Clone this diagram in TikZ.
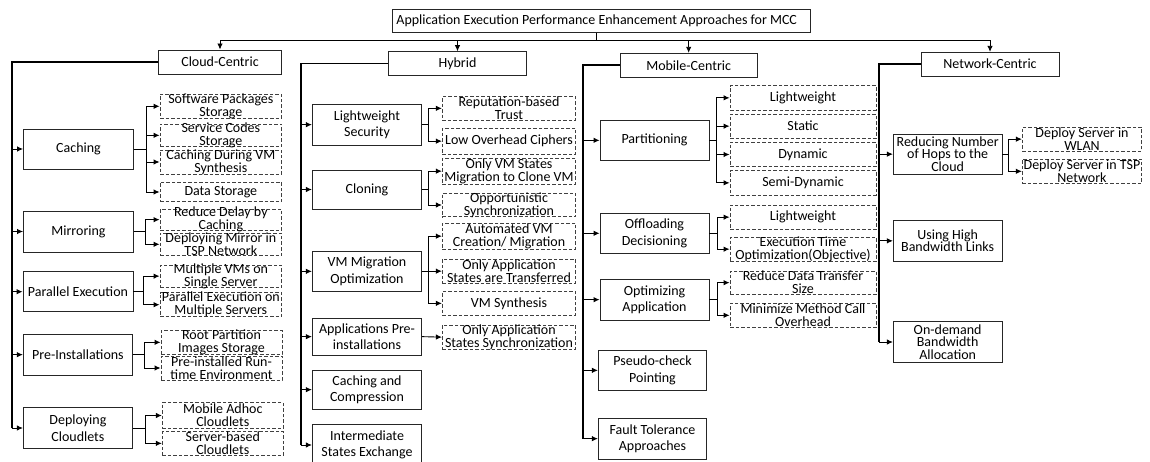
\documentclass[tikz,border=0pt]{standalone}
\usepackage{fontspec}
\setmainfont{Carlito}
\usetikzlibrary{arrows.meta}
\newcommand\fsS{\fontsize{14}{16.5}\selectfont}
\newcommand\fsD{\fontsize{14}{13}\selectfont}
\newcommand\fsN{\fontsize{14}{12.5}\selectfont}
\tikzset{
  sbox/.style={draw=black!85, line width=0.9pt, inner sep=0pt, align=center, font=\fsS},
  dbox/.style={draw=black!75, line width=0.9pt, dash pattern=on 3.5pt off 2pt, inner sep=0pt},
  dtxt/.style={inner sep=0pt, align=center, font=\fsD},
  arr/.style={line width=0.9pt, -{Latex[length=6pt,width=5.5pt]}},
  plain/.style={line width=0.9pt},
  trunk/.style={line width=1.6pt},
}
\newcommand\SB[7][]{\node[sbox,#1,minimum width={#5pt-#3pt},minimum height={#6pt-#4pt}] (#2) at ({(#3+#5)/2},{(#4+#6)/2}) {#7};}
\newcommand\DB[6]{\node[dbox,minimum width={#4pt-#2pt},minimum height={#5pt-#3pt}] (#1) at ({(#2+#4)/2},{(#3+#5)/2}) {};
  \node[dtxt] (#1-t) at (#1.center) {#6};}
\newcommand\br[3]{\foreach \g in {#3} {\draw[arr] (#1.east) -- ++(#2,0) |- (\g.west);}}
\begin{document}
\begin{tikzpicture}[x=1pt,y=-1pt]
\useasboundingbox (0,0) rectangle (1150,462);
% title and categories
\SB{title}{392.7}{9}{810}{32.3}{}
\node[inner sep=0pt, font=\fsS] (title-t) at (596.7,20.7) {Application Execution Performance Enhancement Approaches for MCC};
\SB{cc}{158.3}{50}{281.7}{74}{Cloud-Centric}
\SB{hy}{388.3}{51.7}{526.7}{75.7}{Hybrid}
\SB{mc}{620}{53.3}{757.3}{77.3}{Mobile-Centric}
\SB{nc}{921}{52.3}{1059}{76}{Network-Centric}
% cloud
\SB{c1}{23.5}{129}{133.5}{169}{Caching}
\SB{c2}{23.5}{211}{133.5}{252}{Mirroring}
\SB{c3}{23}{271.7}{133}{311.7}{Parallel Execution}
\SB{c4}{23.3}{334.3}{132.5}{375}{Pre-Installations}
\SB{c5}{23.3}{407.7}{132.5}{448.3}{Deploying\\Cloudlets}
\DB{c1a}{160}{94.3}{281.7}{118.3}{Software Packages\\Storage}
\DB{c1b}{160}{124}{281.7}{146.7}{Service Codes\\Storage}
\DB{c1c}{160}{150}{281.7}{174}{Caching During VM\\Synthesis}
\DB{c1d}{160}{182.3}{281.7}{201.7}{Data Storage}
\DB{c2a}{160}{209.3}{281.7}{230}{Reduce Delay by\\Caching}
\DB{c2b}{160}{233.3}{281.7}{255.3}{Deploying Mirror in\\TSP Network}
\DB{c3a}{160}{265}{281.7}{287.3}{Multiple VMs on\\Single Server}
\DB{c3b}{160}{292.7}{281.7}{316.7}{Parallel Execution on\\Multiple Servers}
\DB{c4a}{161}{330.7}{282}{354}{Root Partition\\Images Storage}
\DB{c4b}{161}{356}{282}{380}{Pre-installed Run-\\time Environment}
\DB{c5a}{162.3}{402.7}{283.3}{428.3}{Mobile Adhoc\\Cloudlets}
\DB{c5b}{162.3}{431.7}{283.3}{455}{Server-based\\Cloudlets}
% hybrid
\SB{h1}{312.3}{104.3}{421.7}{145}{Lightweight\\Security}
\SB{h2}{312.3}{170}{421.7}{209}{Cloning}
\SB{h3}{312.3}{251}{421.7}{291.7}{VM Migration\\Optimization}
\SB{h4}{312.3}{318.3}{421.7}{355}{Applications Pre-\\installations}
\SB{h5}{312.3}{370}{421.7}{409.3}{Caching and\\Compression}
\SB{h6}{312.3}{424}{421.7}{466}{Intermediate\\States Exchange}
\DB{h1a}{442.3}{96.7}{575.7}{120}{Reputation-based\\Trust}
\DB{h1b}{442.3}{128.3}{575.7}{154}{Low Overhead Ciphers}
\DB{h2a}{442.3}{158.3}{575.7}{184}{Only VM States\\Migration to Clone VM}
\DB{h2b}{442.3}{193.3}{575.7}{216.7}{Opportunistic\\Synchronization}
\DB{h3a}{442.3}{223.3}{575.7}{249}{Automated VM\\Creation/ Migration}
\DB{h3b}{442.3}{259}{575.7}{283.3}{Only Application\\States are Transferred}
\DB{h3c}{442.3}{291.7}{575.7}{315}{VM Synthesis}
\DB{h4a}{442.3}{325}{575.7}{349.3}{Only Application\\States Synchronization}
% mobile
\SB{m1}{600}{120}{709}{160.7}{Partitioning}
\SB{m2}{600}{213.3}{709}{253.3}{Offloading\\Decisioning}
\SB{m3}{600}{279.3}{709}{320}{Optimizing\\Application}
\SB{m4}{598.3}{350}{706.7}{390.7}{Pseudo-check\\Pointing}
\SB{m5}{598.3}{418.3}{706.7}{459}{Fault Tolerance\\Approaches}
\DB{m1a}{730}{85.7}{876}{110}{Lightweight}
\DB{m1b}{730}{114}{876}{138.3}{Static}
\DB{m1c}{730}{142.3}{876}{166.7}{Dynamic}
\DB{m1d}{730}{170.7}{876}{195}{Semi-Dynamic}
\DB{m2a}{730}{205}{876}{229.3}{Lightweight}
\DB{m2b}{730}{237.3}{876}{261}{Execution Time\\Optimization(Objective)}
\DB{m3a}{730}{271}{876}{294.3}{Reduce Data Transfer\\Size}
\DB{m3b}{730}{303.3}{876}{327.3}{Minimize Method Call\\Overhead}
% network
\SB[font=\fsN]{n1}{893.3}{134}{1002}{174.3}{Reducing Number\\of Hops to the\\Cloud}
\SB[font=\fsN]{n2}{893.3}{220.7}{1002}{261}{Using High\\Bandwidth Links}
\SB[font=\fsN]{n3}{893.3}{321.7}{1002}{362.3}{On-demand\\Bandwidth\\Allocation}
\DB{n1a}{1022.3}{127.3}{1141.7}{151}{Deploy Server in\\WLAN}
\DB{n1b}{1022.3}{159.3}{1141.7}{183.3}{Deploy Server in TSP\\Network}
% title connectors
\coordinate (ts) at (596.7,0);
\draw[plain] (title.south -| ts) -- ++(0,7.5) coordinate (tj);
\foreach \c in {cc,hy,mc,nc} {\draw[arr] (tj) -| (\c.north);}
% trunks
\coordinate (cv) at (11.7,0);
\coordinate (hv) at (300.7,0);
\coordinate (mv) at (582.7,0);
\coordinate (nv) at (879,0);
\draw[trunk] (cc.west) -| (cv |- c5.west);
\draw[trunk] (hy.west) -| (hv |- h6.west);
\draw[trunk] (mc.west) -| (mv |- m5.west);
\draw[trunk] (nc.west) -| (nv |- n3.west);
\foreach \n in {c1,c2,c3,c4,c5} {\draw[arr] (cv |- \n.west) -- (\n.west);}
\foreach \n in {h1,h2,h3,h4,h5,h6} {\draw[arr] (hv |- \n.west) -- (\n.west);}
\foreach \n in {m1,m2,m3,m4,m5} {\draw[arr] (mv |- \n.west) -- (\n.west);}
\foreach \n in {n1,n2,n3} {\draw[arr] (nv |- \n.west) -- (\n.west);}
% branches
\br{c1}{12}{c1a,c1b,c1c,c1d}
\br{c2}{11.5}{c2a,c2b}
\br{c3}{10}{c3a,c3b}
\br{c4}{11}{c4a,c4b}
\br{c5}{12.5}{c5a,c5b}
\br{h1}{6.6}{h1a,h1b}
\br{h2}{6.6}{h2a,h2b}
\br{h3}{6.6}{h3a,h3b,h3c}
\draw[arr] (h4.east) -- (h4a.west);
\br{m1}{7}{m1a,m1b,m1c,m1d}
\br{m2}{7.5}{m2a,m2b}
\br{m3}{7.5}{m3a,m3b}
\br{n1}{6}{n1a,n1b}
\end{tikzpicture}
\end{document}
